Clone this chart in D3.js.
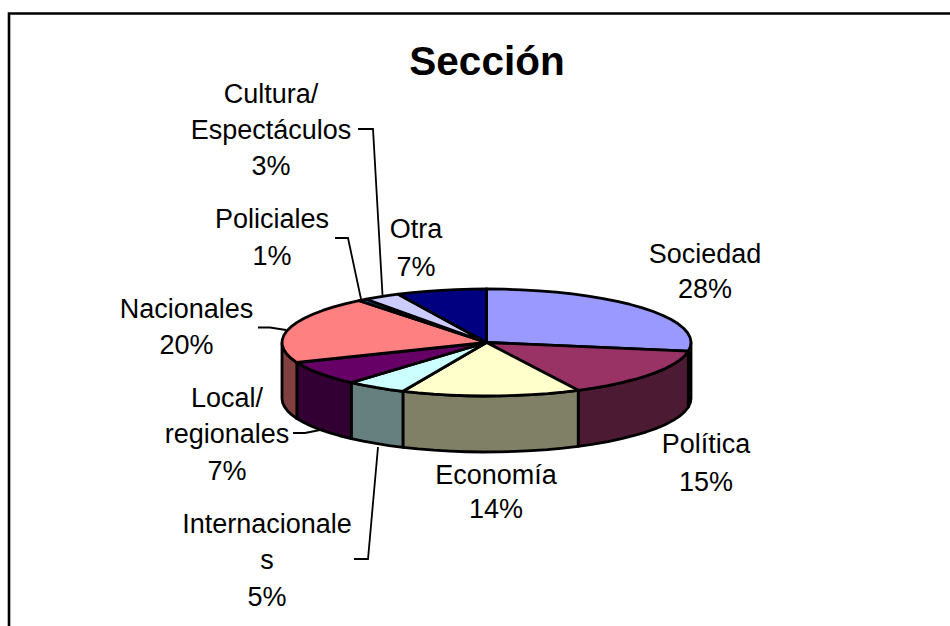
<!DOCTYPE html>
<html><head><meta charset="utf-8">
<script src="https://cdn.jsdelivr.net/npm/d3@7"></script>
<style>html,body{margin:0;padding:0;background:#fff}svg{display:block}text{font-family:"Liberation Sans",Arial,sans-serif;fill:#000}</style>
</head><body><svg id="c" width="950" height="626"></svg>
<script>
const title = "Sección";
const categories = ["Sociedad","Política","Economía","Internacionales","Local/ regionales","Nacionales","Policiales","Cultura/ Espectáculos","Otra"];
const values = [27.6,15.0,14.1,4.8,7.4,20.4,0.7,2.9,7.1];
const labelLines = [["Sociedad"],["Política"],["Economía"],["Internacionale","s"],["Local/","regionales"],["Nacionales"],["Policiales"],["Cultura/","Espectáculos"],["Otra"]];
const topColors = ["#9999FF","#993366","#FFFFCC","#CCFFFF","#660066","#FF8080","#0066CC","#CCCCFF","#000080"];
const sideColors = ["#4C4C80","#4C1A33","#808066","#668080","#330033","#804040","#003366","#666680","#000040"];

// layout
const cx = 486.5, cy = 342.5, rx = 204.5, ry = 53.5, depth = 56;
const LABEL_SIZE = 27;
const placements = [
  {x:705,y:[263,298]},{x:706,y:[453,491]},{x:496,y:[484,518]},
  {x:267,y:[533,569,606]},{x:227,y:[407,443,480]},{x:186.5,y:[318,354]},
  {x:272,y:[228,265]},{x:271,y:[103,139,175]},{x:416,y:[238,276]}
];
const leaders = [
  [[358,129],[373,129],[382.5,295]],
  [[335,238],[348,238],[361,299]],
  [[258,327.5],[270,327.5],[286,330]],
  [[293,433],[305,433],[320,430]],
  [[354,559],[368,559],[378,447]]
];

const svg = d3.select("#c");
const px = d3.scaleLinear().domain([-1,1]).range([cx-rx,cx+rx]);
const py = d3.scaleLinear().domain([-1,1]).range([cy-ry,cy+ry]);
const pt = (a,dz=0)=>[px(Math.sin(a)),py(-Math.cos(a))+dz];
const line = d3.line();
const pie = d3.pie().sort(null).startAngle(0).endAngle(2*Math.PI)(values);
const STEP = Math.PI/36;
const samples = (a0,a1)=>{const n=Math.max(1,Math.ceil((a1-a0)/STEP));return d3.range(n+1).map(i=>a0+(a1-a0)*i/n);};

// frame: top and left edges only, as cropped in the picture
svg.append("path").attr("d",line([[9,626],[9,13.5],[950,13.5]])).attr("fill","none").attr("stroke","#000").attr("stroke-width",2.6);

// side walls (only the front half, pi/2..3pi/2, is visible)
const gSide = svg.append("g");
pie.forEach((d,i)=>{
  const a0=Math.max(d.startAngle,Math.PI/2), a1=Math.min(d.endAngle,3*Math.PI/2);
  if(a1<=a0) return;
  const s=samples(a0,a1);
  const poly=s.map(a=>pt(a)).concat(s.slice().reverse().map(a=>pt(a,depth)));
  gSide.append("path").attr("d",line(poly)+"Z").attr("fill",sideColors[i]).attr("stroke","#000").attr("stroke-width",2.8).attr("stroke-linejoin","round");
});
// top slices
const gTop = svg.append("g");
pie.forEach((d,i)=>{
  const poly=[[cx,cy]].concat(samples(d.startAngle,d.endAngle).map(a=>pt(a)));
  gTop.append("path").attr("d",line(poly)+"Z").attr("fill",topColors[i]).attr("stroke","#000").attr("stroke-width",2.8).attr("stroke-linejoin","round");
});
// leader lines
leaders.forEach(l=>svg.append("path").attr("d",line(l)).attr("fill","none").attr("stroke","#000").attr("stroke-width",1.8));

// title
svg.append("text").attr("x",487).attr("y",75).attr("text-anchor","middle").attr("font-size",40.5).attr("font-weight","bold").text(title);
// labels
categories.forEach((c,i)=>{
  const lines=labelLines[i].concat([Math.round(values[i])+"%"]);
  lines.forEach((t,j)=>svg.append("text").attr("x",placements[i].x).attr("y",placements[i].y[j]).attr("text-anchor","middle").attr("font-size",LABEL_SIZE).text(t));
});
</script></body></html>
